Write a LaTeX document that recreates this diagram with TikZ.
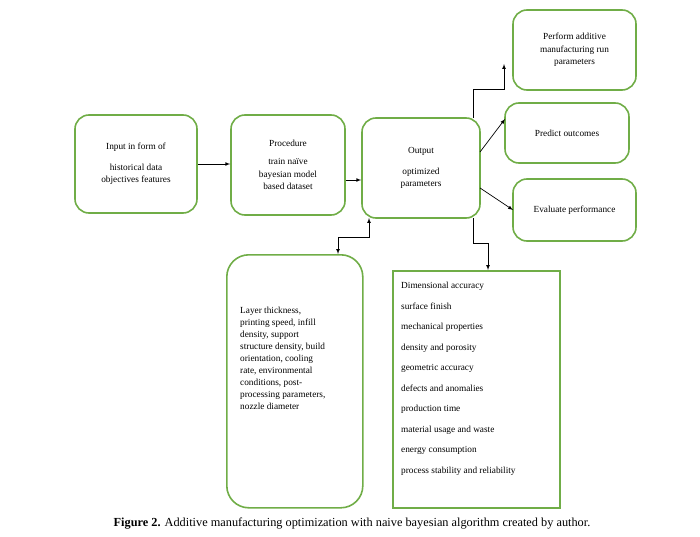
\documentclass[tikz,border=0pt]{standalone}
\usepackage{fontspec}
\setmainfont{Liberation Serif}
\begin{document}
\begin{tikzpicture}[x=1pt,y=-1pt,
  gbox/.style={draw={rgb,255:red,112;green,173;blue,71},line width=1.6pt,rounded corners=14pt,align=center,font=\fontsize{9.3}{12.5}\selectfont},
  arr/.style={-latex,line width=0.7pt}]
\path[use as bounding box] (0,0) rectangle (700,537);
\node[gbox,minimum width=122pt,minimum height=98pt] (in) at (136,164) {Input in form of\\[8pt] historical data\\objectives features};
\node[gbox,minimum width=114pt,minimum height=100pt] (pr) at (288,165) {Procedure\\[6pt] train naïve\\bayesian model\\based dataset};
\node[gbox,minimum width=118pt,minimum height=100pt] (out) at (421,168) {Output\\[8pt] optimized\\parameters};
\node[gbox,minimum width=123pt,minimum height=80pt] (pf) at (574.5,50) {Perform additive\\manufacturing run\\parameters};
\node[gbox,minimum width=124pt,minimum height=60pt] (pd) at (567,133) {Predict outcomes};
\node[gbox,minimum width=123pt,minimum height=62pt] (ev) at (574.5,210) {Evaluate performance};
\node[gbox,rounded corners=22pt,minimum width=136pt,minimum height=253pt,anchor=north west] (ly) at (226,254) {};
\node[anchor=north west,align=left,font=\fontsize{9.3}{12}\selectfont,inner sep=0pt] at (240,307) {Layer thickness,\\printing speed, infill\\density, support\\structure density, build\\orientation, cooling\\rate, environmental\\conditions, post-\\processing parameters,\\nozzle diameter};
\node[gbox,rounded corners=0pt,minimum width=167pt,minimum height=237pt,anchor=north west] (dm) at (392,270) {};
\node[anchor=north west,align=left,font=\fontsize{9.3}{20.5}\selectfont,inner sep=0pt] at (401,282) {Dimensional accuracy\\surface finish\\mechanical properties\\density and porosity\\geometric accuracy\\defects and anomalies\\production time\\material usage and waste\\energy consumption\\process stability and reliability};
\draw[arr] (in.east|-0,164) -- (pr.west|-0,164);
\draw[arr] (pr.east|-0,180) -- (out.west|-0,180);
\draw[arr] (473,118) -- (473,89) -- (504,89) -- (504,64);
\draw[arr] (480,152) -- (505,119);
\draw[arr] (480,188) -- (513,210);
\draw[arr] (473,218) -- (473,243) -- (488,243) -- (dm.north-|488,0);
\draw[latex-latex,line width=0.7pt] (369,218) -- (369,237) -- (338,237) -- (338,254);
\node[font=\fontsize{12.3}{13}\selectfont] (cap) at (352,524) {\textbf{Figure 2.} Additive manufacturing optimization with naive bayesian algorithm created by author.};
\end{tikzpicture}
\end{document}
